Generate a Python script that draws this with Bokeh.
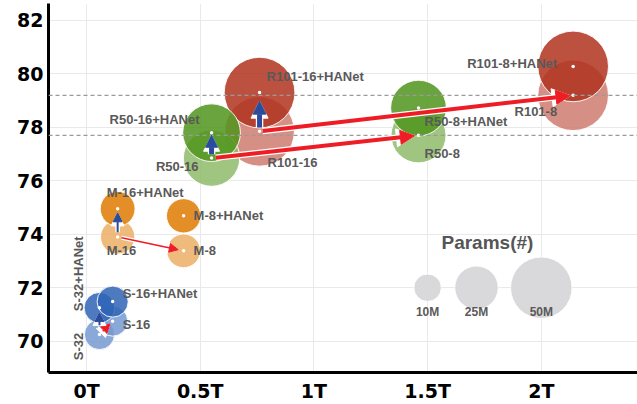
import numpy as np
from bokeh.plotting import figure
from bokeh.models import ColumnDataSource, Range1d, FixedTicker, Span, Arrow, NormalHead
from bokeh.core.properties import value
from bokeh.embed import file_html
from bokeh.resources import INLINE

# ---------------- data ----------------
names = ["S-32", "S-32+HANet", "S-16", "S-16+HANet",
         "M-16", "M-16+HANet", "M-8", "M-8+HANet",
         "R101-16", "R101-16+HANet", "R101-8", "R101-8+HANet",
         "R50-16", "R50-16+HANet", "R50-8", "R50-8+HANet"]
flops_t = [0.057, 0.057, 0.115, 0.115,
           0.137, 0.137, 0.427, 0.427,
           0.761, 0.761, 2.14, 2.14,
           0.55, 0.55, 1.46, 1.46]
miou = [70.25, 71.25, 70.75, 71.48,
        73.9, 74.95, 73.38, 74.69,
        77.85, 79.3, 79.2, 80.28,
        76.85, 77.8, 77.7, 78.72]
params_m = [12.0, 12.5, 12.0, 12.8,
            15.5, 16.0, 15.0, 15.5,
            64.0, 66.0, 66.0, 66.0,
            42.0, 44.0, 40.0, 41.0]
family = ["S", "S", "S", "S", "M", "M", "M", "M",
          "R101", "R101", "R101", "R101", "R50", "R50", "R50", "R50"]
hanet = [n.endswith("+HANet") for n in names]

x_ticks = [0, 0.5, 1, 1.5, 2]
x_tick_labels = ["0T", "0.5T", "1T", "1.5T", "2T"]
y_ticks = [70, 72, 74, 76, 78, 80, 82]

legend_params = [10, 25, 50]
legend_labels = ["10M", "25M", "50M"]
legend_title = "Params(#)"

red_pairs = [("R101-16", "R101-8"), ("R50-16", "R50-8"), ("M-16", "M-8"), ("S-32", "S-16")]
blue_pairs = [("R101-16", "R101-16+HANet"), ("R50-16", "R50-16+HANet"),
              ("M-16", "M-16+HANet"), ("S-32", "S-32+HANet")]
dashed_refs = ["R101-8", "R50-8"]

# ---------------- styles / layout ----------------
dark = {"S": "#2f64b5", "M": "#de7a00", "R101": "#b0321e", "R50": "#50941c"}
pale = {"S": "#7699d1", "M": "#ecaf65", "R101": "#cf7b6e", "R50": "#8fbb6a"}
SCALE = 8.7  # px diameter per sqrt(M params)

# label offsets (px), alignment, rotation
lab_style = {
    "S-32": (-21, 12, "center", np.pi / 2),
    "S-32+HANet": (-21, -34, "center", np.pi / 2),
    "S-16": (10, 3, "left", 0),
    "S-16+HANet": (10, -8, "left", 0),
    "M-16": (-11, 14, "left", 0),
    "M-16+HANet": (-11, -16, "left", 0),
    "M-8": (10, 0, "left", 0),
    "M-8+HANet": (10, 0, "left", 0),
    "R50-16": (-13, 8, "right", 0),
    "R50-16+HANet": (-12, -13, "right", 0),
    "R50-8": (6, 18, "left", 0),
    "R50-8+HANet": (6, 13, "left", 0),
    "R101-16": (8, 31, "left", 0),
    "R101-16+HANet": (7, -16, "left", 0),
    "R101-8": (-16, 16, "right", 0),
    "R101-8+HANet": (-16, -3, "right", 0),
}

idx = {n: i for i, n in enumerate(names)}

p = figure(width=637, height=404, output_backend="svg", toolbar_location=None,
           x_range=Range1d(-0.1671, 2.423), y_range=Range1d(68.828, 82.634),
           min_border_left=48, min_border_right=0, min_border_top=3, min_border_bottom=31,
           background_fill_color="white", border_fill_color="white")
p.outline_line_color = None

for ax in (p.xaxis[0], p.yaxis[0]):
    ax.axis_line_width = 3
    ax.axis_line_color = "black"
    ax.major_tick_line_color = None
    ax.minor_tick_line_color = None
    ax.major_tick_out = 0
    ax.major_tick_in = 0
    ax.minor_tick_out = 0
    ax.minor_tick_in = 0
    ax.major_label_text_font = "DejaVu Sans"
    ax.major_label_text_font_style = "bold"
    ax.major_label_text_font_size = "19px"
    ax.major_label_text_color = "black"
p.xaxis.ticker = FixedTicker(ticks=x_ticks)
p.xaxis.major_label_overrides = {t: l for t, l in zip(x_ticks, x_tick_labels)}
p.xaxis.major_label_standoff = 7
p.yaxis.ticker = FixedTicker(ticks=y_ticks)
p.yaxis.major_label_standoff = 5
p.xgrid.ticker = FixedTicker(ticks=x_ticks)
p.ygrid.ticker = FixedTicker(ticks=y_ticks)
p.grid.grid_line_color = "#e9e9e9"
p.grid.grid_line_width = 1

# legend bubbles
leg_x = [1.5, 1.715, 2.0]
leg_y = [72.0, 72.0, 72.0]
leg_src = ColumnDataSource(dict(x=leg_x, y=leg_y, s=[SCALE * np.sqrt(v) for v in legend_params], t=legend_labels))
p.scatter(x="x", y="y", size="s", source=leg_src, fill_color="#d9d9db", line_color="white", line_width=1)
p.text(x="x", y="y", text="t", source=leg_src, y_offset=24, text_align="center", text_baseline="middle",
       text_font=value("Liberation Sans"), text_font_style="bold", text_font_size="12px", text_color="#5a5a5a")
p.text(x=[1.763], y=[73.68], text=[legend_title], text_align="center", text_baseline="middle",
       text_font=value("Liberation Sans"), text_font_style="bold", text_font_size="19px", text_color="#555555")

# bubbles: per family pale then dark
for fam in ["S", "M", "R101", "R50"]:
    for h in (False, True):
        sel = [i for i in range(len(names)) if family[i] == fam and hanet[i] == h]
        src = ColumnDataSource(dict(x=[flops_t[i] for i in sel], y=[miou[i] for i in sel],
                                    s=[SCALE * np.sqrt(params_m[i]) for i in sel]))
        col = dark[fam] if h else pale[fam]
        p.scatter(x="x", y="y", size="s", source=src, fill_color=col, fill_alpha=0.85,
                  line_color="white", line_width=1, line_alpha=0.9)

# white center dots
p.scatter(x=flops_t, y=miou, size=3.5, fill_color="white", line_color=None)

# labels
for align, rot in [("left", 0), ("right", 0), ("center", np.pi / 2)]:
    sel = [n for n in names if lab_style[n][2] == align]
    src = ColumnDataSource(dict(x=[flops_t[idx[n]] for n in sel], y=[miou[idx[n]] for n in sel],
                                t=sel, dx=[lab_style[n][0] for n in sel], dy=[lab_style[n][1] for n in sel]))
    p.text(x="x", y="y", text="t", x_offset="dx", y_offset="dy", source=src, angle=rot,
           text_align=align, text_baseline="middle", text_font=value("Liberation Sans"),
           text_font_style="bold", text_font_size="13px", text_color="#595959")

# dashed reference lines
for n in dashed_refs:
    p.add_layout(Span(location=miou[idx[n]], dimension="width", line_color="#9a9a9a",
                      line_dash="4 3", line_width=1.3))


def add_arrow(a, b, color, w, hs, f0, f1):
    x0, y0 = flops_t[idx[a]], miou[idx[a]]
    x1, y1 = flops_t[idx[b]], miou[idx[b]]
    sx, sy = x0 + f0 * (x1 - x0), y0 + f0 * (y1 - y0)
    ex, ey = x0 + f1 * (x1 - x0), y0 + f1 * (y1 - y0)
    p.add_layout(Arrow(x_start=sx, y_start=sy, x_end=ex, y_end=ey, line_color="white",
                       line_width=w + 2.5,
                       end=NormalHead(size=hs + 4, fill_color="white", line_color="white", line_width=1)))
    p.add_layout(Arrow(x_start=sx, y_start=sy, x_end=ex, y_end=ey, line_color=color, line_width=w,
                       end=NormalHead(size=hs, fill_color=color, line_color=color, line_width=1)))


red_style = [(4, 14, 0.01, 0.99), (4, 14, 0.02, 0.98), (1.5, 9, 0.06, 0.92), (1.5, 9, 0.25, 0.8)]
blue_style = [(5, 13, 0.1, 0.78), (5, 12, 0.15, 0.9), (2, 9, 0.17, 0.86), (2, 9, 0.35, 0.82)]
for (a, b), st in zip(red_pairs, red_style):
    add_arrow(a, b, "#ee1c25", *st)
for (a, b), st in zip(blue_pairs, blue_style):
    add_arrow(a, b, "#2b4c9c", *st)

open("out.html", "w").write(file_html(p, INLINE))
